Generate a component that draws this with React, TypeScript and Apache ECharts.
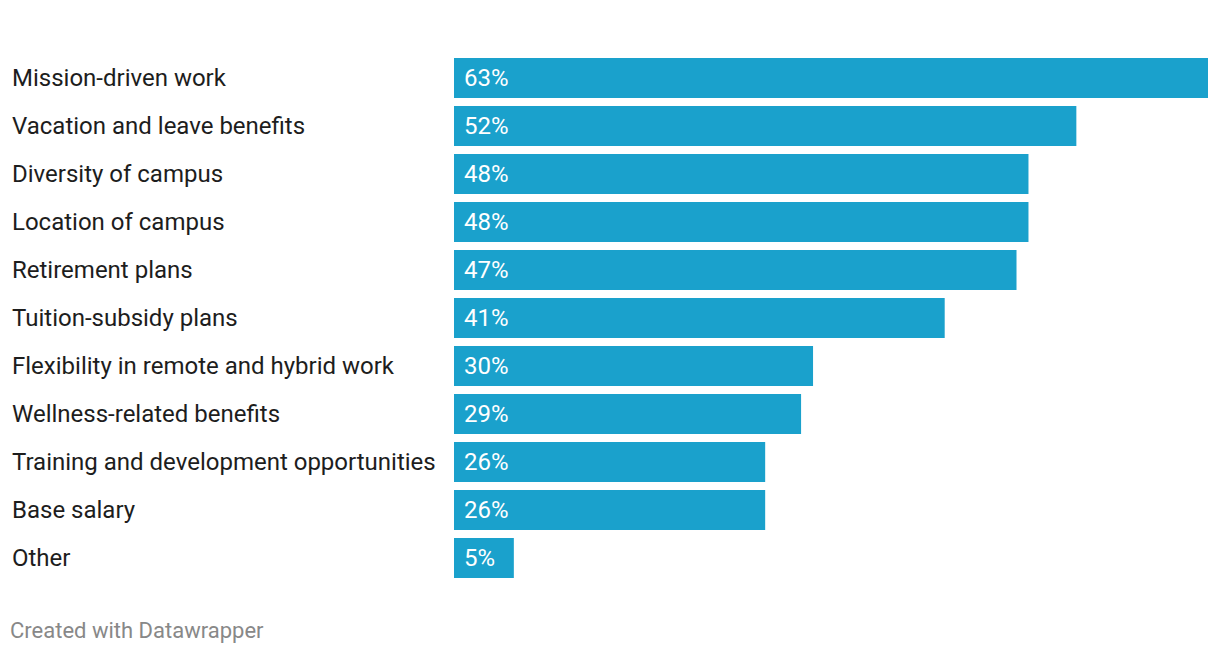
import React, { useEffect, useRef } from "react";
import * as echarts from "echarts";

const categories = [
  "Mission-driven work",
  "Vacation and leave benefits",
  "Diversity of campus",
  "Location of campus",
  "Retirement plans",
  "Tuition-subsidy plans",
  "Flexibility in remote and hybrid work",
  "Wellness-related benefits",
  "Training and development opportunities",
  "Base salary",
  "Other",
];
const values = [63, 52, 48, 48, 47, 41, 30, 29, 26, 26, 5];
const footer = "Created with Datawrapper";

export default function App() {
  const ref = useRef<HTMLDivElement>(null);
  useEffect(() => {
    if (!ref.current) return;
    const chart = echarts.init(ref.current, null, { renderer: "svg" });
    chart.setOption({
      animation: false,
      textStyle: { fontFamily: "Roboto" },
      grid: { left: 454, right: 12, top: 54, height: 528 },
      xAxis: {
        type: "value",
        min: 0,
        max: 63,
        show: false,
      },
      yAxis: {
        type: "category",
        data: categories,
        inverse: true,
        axisLine: { show: false },
        axisTick: { show: false },
        splitLine: { show: false },
        axisLabel: {
          align: "left",
          margin: 442,
          fontSize: 24,
          color: "#1d1d1d",
          fontFamily: "Roboto",
        },
      },
      series: [
        {
          type: "bar",
          data: values,
          barWidth: 40,
          itemStyle: { color: "#1aa1cc" },
          label: {
            show: true,
            position: "insideLeft",
            distance: 10,
            formatter: "{c}%",
            color: "#ffffff",
            fontSize: 24,
            fontFamily: "Roboto",
          },
        },
      ],
      graphic: [
        {
          type: "text",
          left: 10,
          top: 619,
          style: {
            text: footer,
            fill: "#888888",
            fontSize: 22,
            fontFamily: "Roboto",
          },
        },
      ],
    });
    return () => chart.dispose();
  }, []);
  return (
    <div
      ref={ref}
      style={{ position: "absolute", left: 0, top: 0, width: 1220, height: 654, background: "#fff" }}
    />
  );
}
